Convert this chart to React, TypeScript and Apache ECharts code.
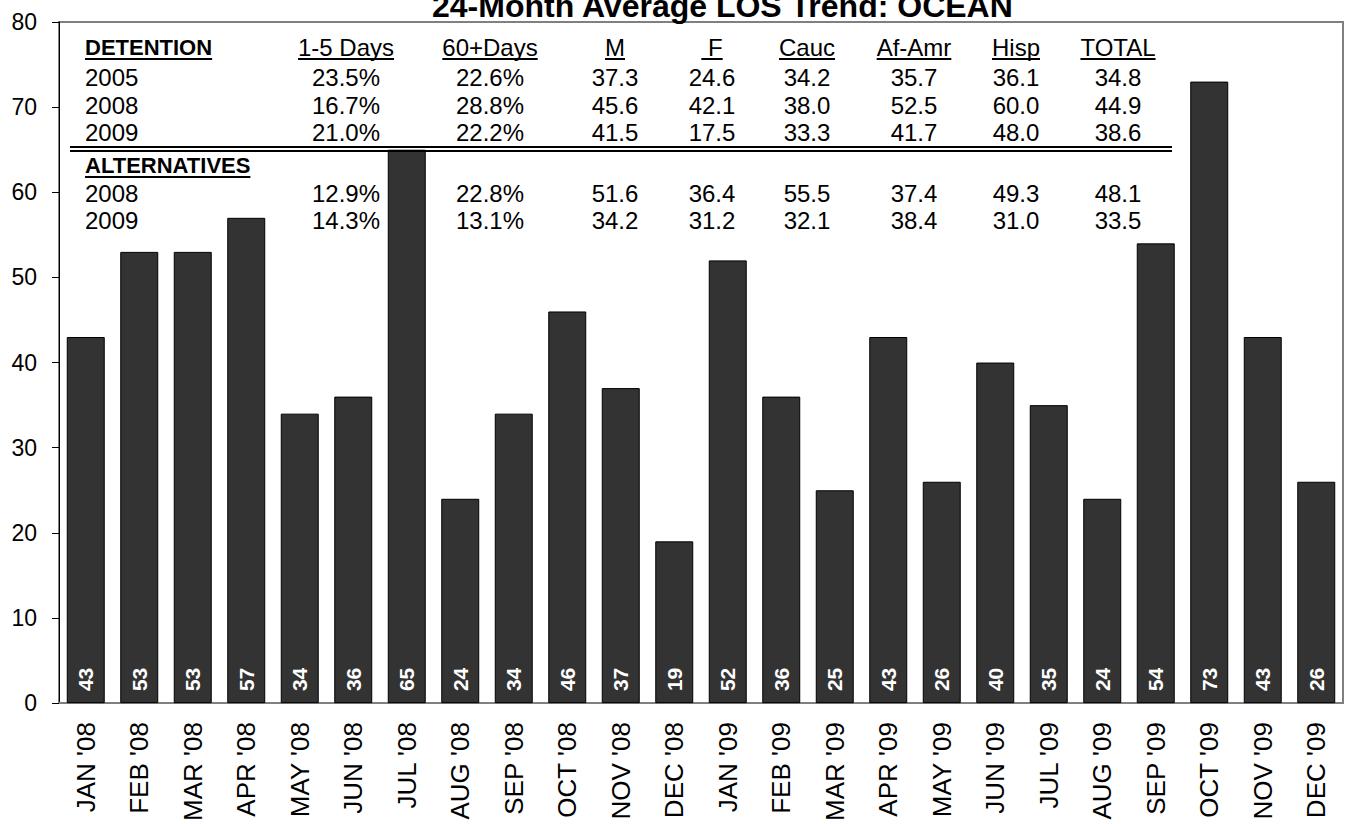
import React, { useEffect, useRef } from "react";
import * as echarts from "echarts";

const categories = [
  "JAN '08", "FEB '08", "MAR '08", "APR '08", "MAY '08", "JUN '08",
  "JUL '08", "AUG '08", "SEP '08", "OCT '08", "NOV '08", "DEC '08",
  "JAN '09", "FEB '09", "MAR '09", "APR '09", "MAY '09", "JUN '09",
  "JUL '09", "AUG '09", "SEP '09", "OCT '09", "NOV '09", "DEC '09",
];
const losValues = [43, 53, 53, 57, 34, 36, 65, 24, 34, 46, 37, 19, 52, 36, 25, 43, 26, 40, 35, 24, 54, 73, 43, 26];

const titleText = "24-Month Average LOS Trend: OCEAN";

const tableColumns = ["1-5 Days", "60+Days", "M", " F", "Cauc", "Af-Amr", "Hisp", "TOTAL"];
const detentionHeader = "DETENTION";
const alternativesHeader = "ALTERNATIVES";
const detentionYears = ["2005", "2008", "2009"];
const detention2005 = ["23.5%", "22.6%", "37.3", "24.6", "34.2", "35.7", "36.1", "34.8"];
const detention2008 = ["16.7%", "28.8%", "45.6", "42.1", "38.0", "52.5", "60.0", "44.9"];
const detention2009 = ["21.0%", "22.2%", "41.5", "17.5", "33.3", "41.7", "48.0", "38.6"];
const alternativesYears = ["2008", "2009"];
const alternatives2008 = ["12.9%", "22.8%", "51.6", "36.4", "55.5", "37.4", "49.3", "48.1"];
const alternatives2009 = ["14.3%", "13.1%", "34.2", "31.2", "32.1", "38.4", "31.0", "33.5"];

const FONT = "'Liberation Sans', Arial, Helvetica, sans-serif";

function measure(text: string, size: number, weight: string) {
  const c = document.createElement("canvas").getContext("2d");
  if (!c) return text.length * size * 0.55;
  c.font = `${weight} ${size}px ${FONT}`;
  return c.measureText(text).width;
}

export default function App() {
  const ref = useRef<HTMLDivElement>(null);
  useEffect(() => {
    if (!ref.current) return;
    const chart = echarts.init(ref.current, null, { renderer: "svg" });

    const colX = [346, 490, 615, 712, 807, 914, 1016, 1118];
    const leftX = 85;
    const cellSize = 24;
    const headSize = 22;
    const graphics: any[] = [];
    const addText = (text: string, x: number, y: number, align: string, size: number, bold: boolean) => {
      graphics.push({
        type: "text",
        x,
        y,
        z: 100,
        style: {
          text,
          fill: "#000",
          fontSize: size,
          fontWeight: bold ? "bold" : "normal",
          fontFamily: FONT,
          align,
          verticalAlign: "middle",
        },
      });
    };
    const addUnderline = (x1: number, x2: number, y: number) => {
      graphics.push({
        type: "line",
        z: 100,
        shape: { x1, y1: y, x2, y2: y },
        style: { stroke: "#000", lineWidth: 2 },
      });
    };

    const headY = 47;
    addText(detentionHeader, leftX, headY, "left", headSize, true);
    addUnderline(leftX, leftX + measure(detentionHeader, headSize, "bold"), headY + 12);
    tableColumns.forEach((h, i) => {
      addText(h, colX[i], headY, "center", cellSize, false);
      const w = measure(h, cellSize, "normal");
      addUnderline(colX[i] - w / 2, colX[i] + w / 2, headY + 12);
    });
    const detRows = [detention2005, detention2008, detention2009];
    const detY = [77.5, 105, 132];
    detRows.forEach((row, r) => {
      addText(detentionYears[r], leftX, detY[r], "left", cellSize, false);
      row.forEach((v, i) => addText(v, colX[i], detY[r], "center", cellSize, false));
    });
    graphics.push({ type: "line", z: 100, shape: { x1: 70, y1: 147, x2: 1172, y2: 147 }, style: { stroke: "#000", lineWidth: 2 } });
    graphics.push({ type: "line", z: 100, shape: { x1: 70, y1: 151, x2: 1172, y2: 151 }, style: { stroke: "#000", lineWidth: 2 } });

    const altHeadY = 165;
    addText(alternativesHeader, leftX, altHeadY, "left", headSize, true);
    addUnderline(leftX, leftX + measure(alternativesHeader, headSize, "bold"), altHeadY + 12);
    const altRows = [alternatives2008, alternatives2009];
    const altY = [193, 220];
    altRows.forEach((row, r) => {
      addText(alternativesYears[r], leftX, altY[r], "left", cellSize, false);
      row.forEach((v, i) => addText(v, colX[i], altY[r], "center", cellSize, false));
    });

    chart.setOption({
      animation: false,
      backgroundColor: "#ffffff",
      title: {
        text: titleText,
        left: 432,
        top: -10,
        padding: 0,
        textStyle: { fontSize: 32, fontWeight: "bold", color: "#000", fontFamily: FONT },
      },
      grid: {
        left: 59,
        right: 10,
        top: 22,
        bottom: 117,
        show: true,
        borderColor: "#808080",
        borderWidth: 2,
        backgroundColor: "transparent",
      },
      xAxis: {
        type: "category",
        data: categories,
        axisLine: { lineStyle: { color: "#808080", width: 2 } },
        axisTick: { show: false },
        axisLabel: {
          rotate: 90,
          interval: 0,
          margin: 19,
          fontSize: 26,
          color: "#000",
          fontFamily: FONT,
        },
        splitLine: { show: false },
      },
      yAxis: {
        type: "value",
        min: 0,
        max: 80,
        interval: 10,
        axisLine: { show: true, lineStyle: { color: "#000", width: 1 } },
        axisTick: { show: true, inside: false, length: 7, lineStyle: { color: "#000" } },
        axisLabel: { fontSize: 23, color: "#000", fontFamily: FONT, margin: 22 },
        splitLine: { show: false },
      },
      series: [
        {
          type: "bar",
          data: losValues,
          barCategoryGap: "29%",
          itemStyle: { color: "#333333", borderColor: "#000000", borderWidth: 1 },
          label: {
            show: true,
            position: "insideBottom",
            rotate: 90,
            align: "left",
            verticalAlign: "middle",
            distance: 12,
            color: "#ffffff",
            fontWeight: "bold",
            fontSize: 21,
            fontFamily: FONT,
          },
        },
      ],
      graphic: graphics,
    });
    return () => chart.dispose();
  }, []);
  return (
    <div
      ref={ref}
      style={{ position: "absolute", left: 0, top: 0, width: 1353, height: 824, background: "#fff" }}
    />
  );
}
